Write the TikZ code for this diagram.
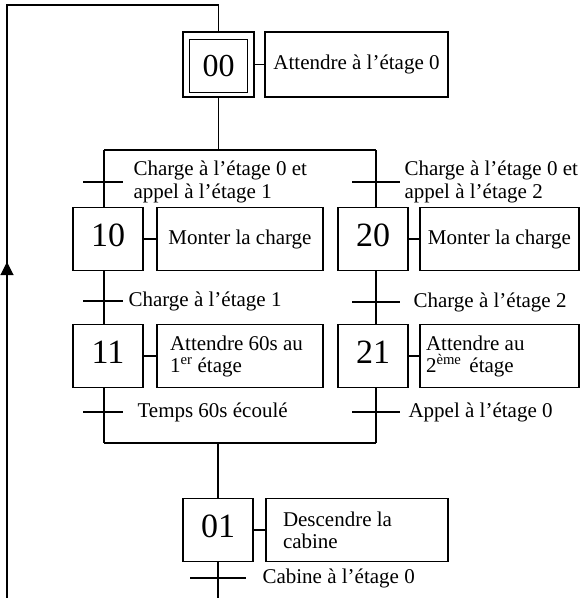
\documentclass[tikz,border=0pt]{standalone}
\usepackage{fontspec}
\setmainfont{Liberation Serif}
\usetikzlibrary{arrows.meta,decorations.markings}
\begin{document}
\begin{tikzpicture}[x=1pt,y=-1pt,line width=1.1pt,
  stepbox/.style={draw,minimum width=70pt,minimum height=63pt,inner sep=0pt,text depth=8pt,font=\fontsize{34}{36}\selectfont},
  actbox/.style={draw,minimum height=63pt,inner ysep=0pt,font=\fontsize{21}{22}\selectfont},
  lbl/.style={anchor=west,inner sep=0pt,align=flush left,font=\fontsize{21}{23}\selectfont},
  upmark/.style={postaction={decorate},decoration={markings,mark=at position 336pt with {\arrow{Triangle[length=13pt,width=13pt]}}}}
]
\useasboundingbox (0,0) rectangle (581,598);

% steps
\node[draw,minimum width=71pt,minimum height=65pt,inner sep=0pt] (s00) at (218.5,64.5) {};
\node[draw,minimum width=58pt,minimum height=53pt,inner sep=0pt,font=\fontsize{32}{34}\selectfont] (s00i) at (218.5,66) {00};
\node[stepbox] (s10) at (108,239) {10};
\node[stepbox] (s11) at (108,356) {11};
\node[stepbox] (s20) at (373,239) {20};
\node[stepbox] (s21) at (373,356) {21};
\node[stepbox] (s01) at (218,530) {01};

% actions
\node[actbox,minimum width=183pt,minimum height=65pt] (a00) at (356.5,64.5) {Attendre à l’étage 0};
\node[actbox,minimum width=166pt] (a10) at (240,239) {Monter la charge};
\node[actbox,minimum width=159pt] (a20) at (499.5,239) {Monter la charge};
\node[actbox,text width=140pt,inner xsep=13pt,align=flush left] (a11) at (240,356) {Attendre 60s au\\1\textsuperscript{er} étage};
\node[actbox,text width=147pt,inner xsep=6pt,align=flush left] (a21) at (499.5,356) {Attendre au\\2\textsuperscript{ème}\hspace{8pt}étage};
\node[actbox,text width=148pt,inner xsep=17pt,align=flush left] (a01) at (357,530) {Descendre la\\cabine};

\foreach \s in {00,10,11,20,21,01} {\draw (s\s.east) -- (a\s.west);}

% divergence / convergence
\coordinate (L) at (104,150);
\coordinate (R) at (376,150);
\coordinate (LC) at (104,443);
\coordinate (RC) at (376,443);
\draw (s00.south) -- (s00.south |- L);
\draw (L) -- (R);
\draw (L) -- (L |- s10.north);
\draw (L |- s10.south) -- (L |- s11.north);
\draw (L |- s11.south) -- (LC);
\draw (R) -- (R |- s20.north);
\draw (R |- s20.south) -- (R |- s21.north);
\draw (R |- s21.south) -- (RC);
\draw (LC) -- (RC);
\draw (LC -| s01) -- (s01.north);
\coordinate (B) at (218,600);
\draw (s01.south) -- (B);

% loop back
\coordinate (BL) at (7,598);
\coordinate (TL) at (7,5);
\coordinate (TR) at (218.5,5);
\draw[upmark] (BL) -- (TL) -- (TR) -- (s00.north);

% transitions
\coordinate (t1L) at (104,182);
\coordinate (t2L) at (104,301);
\coordinate (t3L) at (104,412);
\coordinate (t1R) at (376,182);
\coordinate (t2R) at (376,302);
\coordinate (t3R) at (376,412);
\coordinate (t4) at (218,578);
\foreach \t in {t1L,t2L,t3L} {\draw ([xshift=-21pt]\t) -- ([xshift=19pt]\t);}
\foreach \t in {t1R,t2R,t3R} {\draw ([xshift=-24pt]\t) -- ([xshift=24pt]\t);}
\draw ([xshift=-28pt]t4) -- ([xshift=28pt]t4);

\node[lbl] (l1L) at (133,182) {Charge à l’étage 0 et\\appel à l’étage 1};
\node[lbl] (l1R) at (404,182) {Charge à l’étage 0 et\\appel à l’étage 2};
\node[lbl] (l2L) at (128,301) {Charge à l’étage 1};
\node[lbl] (l2R) at (413,302) {Charge à l’étage 2};
\node[lbl] (l3L) at (137,412) {Temps 60s écoulé};
\node[lbl] (l3R) at (408,412) {Appel à l’étage 0};
\node[lbl] (l4) at (262,578) {Cabine à l’étage 0};
\end{tikzpicture}
\end{document}
